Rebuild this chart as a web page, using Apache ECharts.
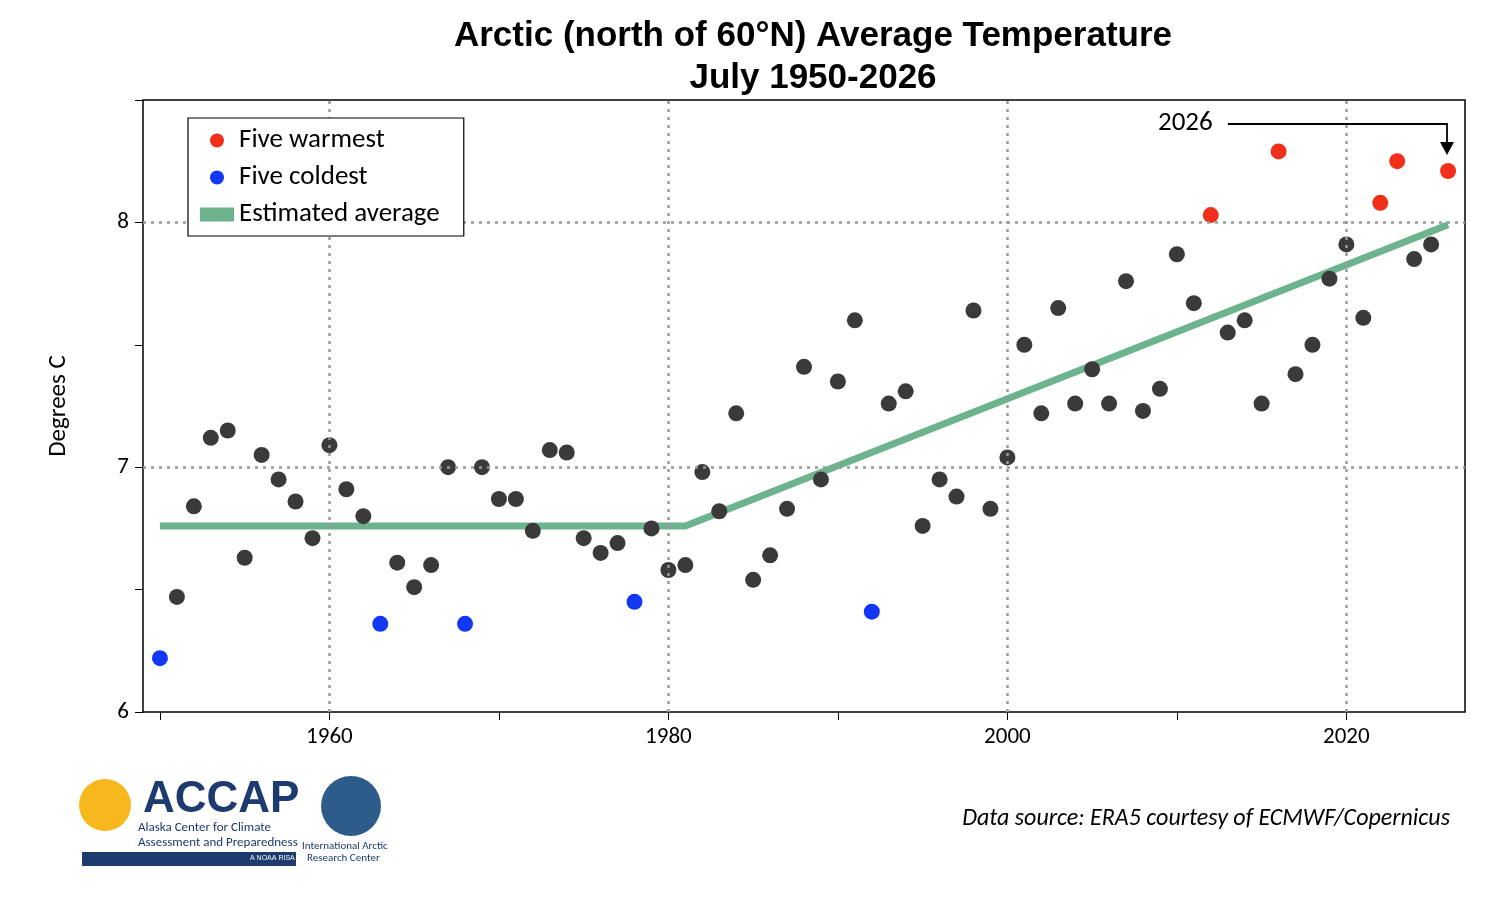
<!DOCTYPE html>
<html>
<head>
<meta charset="utf-8">
<title>Arctic July temperature</title>
<script src="https://cdn.jsdelivr.net/npm/echarts@6/dist/echarts.min.js"></script>
</head>
<body style="margin:0;background:#fff">
<div id="main" style="width:1500px;height:900px;"></div>
<script>
// July mean temperature north of 60N
var years = [];
for (var yr = 1950; yr <= 2026; yr++) years.push(yr);
var temps = [6.22,6.47,6.84,7.12,7.15,6.63,7.05,6.95,6.86,6.71,
  7.09,6.91,6.80,6.36,6.61,6.51,6.60,7.00,6.36,7.00,
  6.87,6.87,6.74,7.07,7.06,6.71,6.65,6.69,6.45,6.75,
  6.58,6.60,6.98,6.82,7.22,6.54,6.64,6.83,7.41,6.95,
  7.35,7.60,6.41,7.26,7.31,6.76,6.95,6.88,7.64,6.83,
  7.04,7.50,7.22,7.65,7.26,7.40,7.26,7.76,7.23,7.32,
  7.87,7.67,8.03,7.55,7.60,7.26,8.29,7.38,7.50,7.77,
  7.91,7.61,8.08,8.25,7.85,7.91,8.21];
var warmestYears = [2012, 2016, 2022, 2023, 2026];
var coldestYears = [1950, 1963, 1968, 1978, 1992];
var trendYears = [1950, 1981, 2026];
var trendTemps = [6.76, 6.76, 7.99];
var gridYears = [1960, 1980, 2000, 2020];
var gridTemps = [7, 8];

function pick(list) {
  return years.filter(function (y) { return list.indexOf(y) >= 0; })
    .map(function (y) { return [y, temps[y - 1950]]; });
}
var normal = years.filter(function (y) {
  return warmestYears.indexOf(y) < 0 && coldestYears.indexOf(y) < 0;
}).map(function (y) { return [y, temps[y - 1950]]; });

var dotted = { color: '#999', type: [3, 5], width: 2.5 };
var font = 'Calibri, Carlito, "Liberation Sans", sans-serif';

var chart = echarts.init(document.getElementById('main'));
chart.setOption({
  animation: false,
  textStyle: { fontFamily: font },
  title: {
    text: 'Arctic (north of 60\u00b0N) Average Temperature\nJuly 1950-2026',
    left: 808, top: 10, textAlign: 'center',
    textStyle: { fontSize: 35, fontWeight: 'bold', lineHeight: 42, color: '#000', fontFamily: '"Liberation Sans", Arial, sans-serif' }
  },
  grid: { left: 143, right: 35, top: 100, bottom: 188, show: true, borderColor: '#000', borderWidth: 1.5 },
  legend: {
    left: 188, top: 118, orient: 'vertical', itemGap: 10, zlevel: 1, z: 20,
    padding: [9, 24, 8, 12], borderColor: '#000', borderWidth: 1.2, backgroundColor: '#ffffff',
    textStyle: { fontSize: 27, color: '#000', fontFamily: font },
    data: [
      { name: 'Five warmest', icon: 'circle' },
      { name: 'Five coldest', icon: 'circle' },
      { name: 'Estimated average', icon: 'rect' }
    ],
    itemWidth: 34, itemHeight: 14
  },
  xAxis: {
    type: 'value', min: 1949, max: 2027,
    axisLine: { show: false },
    axisTick: { show: true, customValues: [1950,1960,1970,1980,1990,2000,2010,2020], length: 8, lineStyle: { color: '#000' } },
    axisLabel: { customValues: gridYears, fontSize: 23, color: '#000', margin: 14, fontFamily: font,
      formatter: function (v) { return String(v); } },
    splitLine: { show: false }
  },
  yAxis: {
    type: 'value', min: 6, max: 8.5, interval: 0.5,
    name: 'Degrees C', nameLocation: 'middle', nameGap: 72,
    nameTextStyle: { fontSize: 25, color: '#000', fontFamily: font },
    axisLine: { show: false },
    axisTick: { show: true, length: 8, lineStyle: { color: '#000' } },
    axisLabel: { fontSize: 23, color: '#000', margin: 14, fontFamily: font,
      formatter: function (v) { return v % 1 === 0 ? String(v) : ''; } },
    splitLine: { show: false }
  },
  series: [
    {
      name: 'grid', type: 'line', data: [], silent: true,
      markLine: {
        symbol: 'none', silent: true, label: { show: false }, lineStyle: dotted,
        data: gridYears.map(function (v) { return { xAxis: v }; })
          .concat(gridTemps.map(function (v) { return { yAxis: v }; }))
      }
    },
    {
      name: 'Estimated average', type: 'line', z: 2, symbol: 'none',
      data: trendYears.map(function (y, i) { return [y, trendTemps[i]]; }),
      lineStyle: { color: '#6db38e', width: 7 }, itemStyle: { color: '#6db38e' }
    },
    { name: 'all', type: 'scatter', z: 3, data: normal, symbolSize: 16, itemStyle: { color: '#3a3a3a', opacity: 1 } },
    { name: 'Five warmest', type: 'scatter', z: 3, data: pick(warmestYears), symbolSize: 16, itemStyle: { color: '#f0301a', opacity: 1 } },
    { name: 'Five coldest', type: 'scatter', z: 3, data: pick(coldestYears), symbolSize: 16, itemStyle: { color: '#1238f5', opacity: 1 } }
  ],
  graphic: [
    { type: 'text', left: 1158, top: 110, style: { text: '2026', fontSize: 27, fill: '#000', fontFamily: font } },
    { type: 'polyline', shape: { points: [[1228, 124], [1447, 124], [1447, 150]] }, style: { stroke: '#000', lineWidth: 1.8, fill: null } },
    { type: 'polygon', shape: { points: [[1440, 142], [1447, 155], [1454, 142]] }, style: { fill: '#000' } },
    { type: 'text', right: 50, top: 807, style: { text: 'Data source: ERA5 courtesy of ECMWF/Copernicus', fontSize: 24, fontStyle: 'italic', fill: '#000', fontFamily: font } },
    { type: 'circle', shape: { cx: 105, cy: 805, r: 26 }, style: { fill: '#f6b81c' } },
    { type: 'text', left: 143, top: 778, style: { text: 'ACCAP', fontSize: 44, fontWeight: 'bold', fill: '#1d3b6e', fontFamily: '"Liberation Sans", Arial, sans-serif' } },
    { type: 'text', left: 138, top: 820, style: { text: 'Alaska Center for Climate\nAssessment and Preparedness', fontSize: 13, lineHeight: 15, fill: '#1d3b6e', align: 'left', fontFamily: font } },
    { type: 'rect', shape: { x: 82, y: 852, width: 214, height: 14 }, style: { fill: '#1d3b6e' } },
    { type: 'text', left: 250, top: 855, style: { text: 'A NOAA RISA team', fontSize: 7, fill: '#fff' } },
    { type: 'circle', shape: { cx: 351, cy: 806, r: 30 }, style: { fill: '#2d5b8a' } },
    { type: 'text', left: 302, top: 840, style: { text: 'International Arctic\n  Research Center', fontSize: 11, lineHeight: 12, fill: '#1d3b6e', fontFamily: font } }
  ]
});
</script>
</body>
</html>
